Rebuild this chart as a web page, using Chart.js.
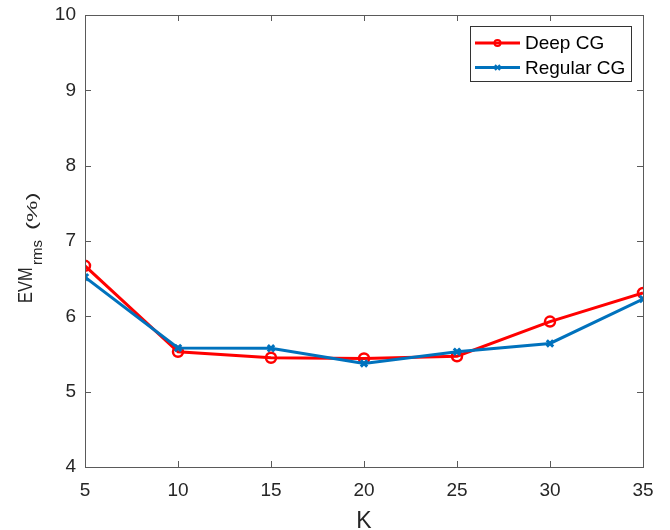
<!DOCTYPE html>
<html>
<head>
<meta charset="utf-8">
<script src="https://cdn.jsdelivr.net/npm/chart.js@4/dist/chart.umd.min.js"></script>
<style>
  html, body { margin: 0; padding: 0; background: #fff; }
  #wrap { width: 670px; height: 530px; }
</style>
</head>
<body>
<div id="wrap"><canvas id="evmChart" width="670" height="530"></canvas></div>
<script>
// values
const kValues = [5, 10, 15, 20, 25, 30, 35];
const deepCG = [6.67, 5.53, 5.45, 5.44, 5.47, 5.93, 6.31];
const regularCG = [6.52, 5.58, 5.575, 5.375, 5.53, 5.64, 6.23];
const xTicks = [5, 10, 15, 20, 25, 30, 35];
const yTicks = [4, 5, 6, 7, 8, 9, 10];

const FONT = '"Liberation Sans", Arial, sans-serif';
const AXIS_COLOR = '#5a5a5a';
const TEXT_COLOR = '#262626';

function toPoints(ys) {
  return kValues.map((k, i) => ({ x: k, y: ys[i] }));
}

// box round the plot and the small inward tick marks (matlab style)
const boxPlugin = {
  id: 'boxTicks',
  afterDraw(chart) {
    const ctx = chart.ctx;
    const a = chart.chartArea;
    const xs = chart.scales.x;
    const ys = chart.scales.y;
    const len = 6;
    ctx.save();
    ctx.strokeStyle = AXIS_COLOR;
    ctx.lineWidth = 1;
    ctx.strokeRect(a.left + 0.5, a.top + 0.5, a.right - a.left, a.bottom - a.top);
    ctx.beginPath();
    xTicks.forEach(t => {
      const px = Math.round(xs.getPixelForValue(t)) + 0.5;
      ctx.moveTo(px, a.bottom); ctx.lineTo(px, a.bottom - len);
      ctx.moveTo(px, a.top); ctx.lineTo(px, a.top + len);
    });
    yTicks.forEach(t => {
      const py = Math.round(ys.getPixelForValue(t)) + 0.5;
      ctx.moveTo(a.left, py); ctx.lineTo(a.left + len, py);
      ctx.moveTo(a.right, py); ctx.lineTo(a.right - len, py);
    });
    ctx.stroke();
    ctx.restore();
  }
};

// axis titles; the y one needs a subscript so it is drawn by hand
const titlePlugin = {
  id: 'axisTitles',
  afterDraw(chart) {
    const ctx = chart.ctx;
    const a = chart.chartArea;
    ctx.save();
    ctx.fillStyle = TEXT_COLOR;
    ctx.textAlign = 'center';
    ctx.textBaseline = 'alphabetic';
    ctx.font = '23px ' + FONT;
    ctx.fillText('K', (a.left + a.right) / 2, 528);

    ctx.translate(31.5, 303);
    ctx.rotate(-Math.PI / 2);
    ctx.textAlign = 'left';
    ctx.save();
    ctx.scale(0.82, 1);
    ctx.font = '20px ' + FONT;
    ctx.fillText('EVM', 0, 0);
    ctx.restore();
    ctx.font = '15px ' + FONT;
    ctx.fillText('rms', 38, 10);
    ctx.save();
    ctx.translate(73, 5);
    ctx.scale(1.15, 0.72);
    ctx.font = '21px ' + FONT;
    ctx.fillText('(%)', 0, 0);
    ctx.restore();
    ctx.restore();
  }
};

// legend inside the plot, top right
const legendPlugin = {
  id: 'boxLegend',
  afterDraw(chart) {
    const ctx = chart.ctx;
    const x0 = 470, y0 = 26, w = 161, h = 55;
    ctx.save();
    ctx.fillStyle = '#fff';
    ctx.fillRect(x0, y0, w, h);
    ctx.strokeStyle = '#333';
    ctx.lineWidth = 1;
    ctx.strokeRect(x0 + 0.5, y0 + 0.5, w, h);
    ctx.font = '19px ' + FONT;
    ctx.textBaseline = 'middle';
    chart.data.datasets.forEach((ds, i) => {
      const cy = [43, 67.5][ds.legendRow];
      ctx.strokeStyle = ds.borderColor;
      ctx.lineWidth = 3;
      ctx.beginPath();
      ctx.moveTo(475, cy); ctx.lineTo(520, cy);
      ctx.stroke();
      ctx.lineWidth = 2;
      ctx.beginPath();
      if (ds.pointStyle === 'circle') {
        ctx.arc(497.5, cy, 3, 0, Math.PI * 2);
      } else {
        ctx.moveTo(495, cy - 2.5); ctx.lineTo(500, cy + 2.5);
        ctx.moveTo(495, cy + 2.5); ctx.lineTo(500, cy - 2.5);
      }
      ctx.stroke();
      ctx.fillStyle = '#000';
      ctx.fillText(ds.label, 525, cy + 1);
    });
    ctx.restore();
  }
};

const data = {
  datasets: [
    {
      label: 'Deep CG',
      data: toPoints(deepCG),
      borderColor: '#ff0000',
      backgroundColor: '#ff0000',
      borderWidth: 3,
      pointStyle: 'circle',
      pointRadius: 5,
      pointBorderWidth: 2.5,
      pointBackgroundColor: 'rgba(0,0,0,0)',
      pointBorderColor: '#ff0000',
      order: 1,
      legendRow: 0
    },
    {
      label: 'Regular CG',
      data: toPoints(regularCG),
      borderColor: '#0072bd',
      backgroundColor: '#0072bd',
      borderWidth: 3,
      pointStyle: 'crossRot',
      pointRadius: 4.5,
      pointBorderWidth: 3,
      pointBorderColor: '#0072bd',
      order: 0,
      legendRow: 1
    }
  ]
};

const tickFont = { family: FONT, size: 19 };

// drop the extra room chart.js keeps for the end labels, the layout padding is enough
function noEdgePadding(s) {
  s.paddingTop = 0;
  s.paddingBottom = 0;
  s.paddingLeft = 0;
  s.paddingRight = 0;
}

new Chart(document.getElementById('evmChart'), {
  type: 'line',
  data: data,
  options: {
    responsive: false,
    animation: false,
    layout: { padding: { top: 15, right: 27, left: 0, bottom: 0 } },
    plugins: {
      legend: { display: false },
      tooltip: { enabled: false }
    },
    scales: {
      x: {
        type: 'linear',
        min: 5,
        max: 35,
        afterFit: s => { s.height = 63; noEdgePadding(s); },
        afterBuildTicks: s => { s.ticks = xTicks.map(v => ({ value: v })); },
        grid: { display: false, drawTicks: false },
        border: { display: true, color: AXIS_COLOR },
        ticks: { font: tickFont, color: TEXT_COLOR, padding: 12, autoSkip: false, maxRotation: 0 }
      },
      y: {
        min: 4,
        max: 10,
        afterFit: s => { s.width = 85; noEdgePadding(s); },
        afterBuildTicks: s => { s.ticks = yTicks.map(v => ({ value: v })); },
        grid: { display: false, drawTicks: false },
        border: { display: true, color: AXIS_COLOR },
        ticks: { font: tickFont, color: TEXT_COLOR, padding: 9 }
      }
    }
  },
  plugins: [boxPlugin, titlePlugin, legendPlugin]
});
</script>
</body>
</html>
